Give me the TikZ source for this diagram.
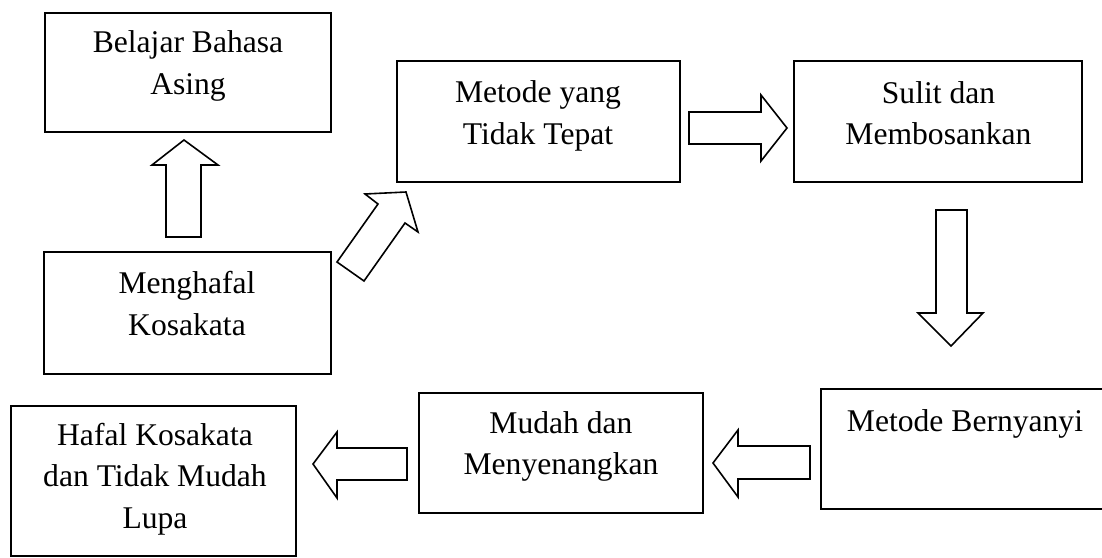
\documentclass[tikz,border=0pt]{standalone}
\usepackage{fontspec}
\setmainfont{Liberation Serif}
\begin{document}
\begin{tikzpicture}[x=0.5pt,y=-0.5pt,
  box/.style 2 args={draw, rectangle, line width=1pt, inner sep=0pt, outer sep=0pt,
     minimum width=#1*0.5pt, minimum height=#2*0.5pt},
  txt/.style={align=center, inner sep=0pt, font=\fontsize{15.8}{20.8}\selectfont},
  barr/.style={draw, line width=0.8pt, line join=miter, fill=white}]
\useasboundingbox (0,0) rectangle (1102,557);
% boxes
\node[box={286}{119}] (A) at (188,72.5) {};
\node[box={287}{122}] (B) at (187.5,313) {};
\node[box={283}{121}] (C) at (538.5,121.5) {};
\node[box={288}{121}] (D) at (938,121.5) {};
\node[box={285}{120}] (E) at (963.5,449) {};
\node[box={284}{120}] (F) at (561,453) {};
\node[box={285}{150}] (G) at (153.5,481) {};
% texts
\node[txt] (At) at (188,66) {Belajar Bahasa\\Asing};
\node[txt] (Bt) at (187,303.5) {Menghafal\\Kosakata};
\node[txt] (Ct) at (538,115.7) {Metode yang\\Tidak Tepat};
\node[txt] (Dt) at (938.5,113) {Sulit dan\\Membosankan};
\node[txt] (Et) at (965,424) {Metode Bernyanyi};
\node[txt] (Ft) at (561,446.5) {Mudah dan\\Menyenangkan};
\node[txt] (Gt) at (155,479) {Hafal Kosakata\\dan Tidak Mudah\\Lupa};
% block arrows
\draw[barr] (166,237) -- (201,237) -- (201,165) -- (218,165) -- (184,140) -- (152,165) -- (166,165) -- cycle;
\draw[barr] (337,262) -- (378,204) -- (365,194) -- (406,192) -- (418,232) -- (405,223) -- (364,281) -- cycle;
\draw[barr] (689,112) -- (761,112) -- (761,95) -- (787,128) -- (761,161) -- (761,144) -- (689,144) -- cycle;
\draw[barr] (936,210) -- (967,210) -- (967,313) -- (983,313) -- (951,346) -- (918,313) -- (936,313) -- cycle;
\draw[barr] (810,446) -- (738,446) -- (738,430) -- (713,463) -- (738,497) -- (738,479) -- (810,479) -- cycle;
\draw[barr] (407,448) -- (337,448) -- (337,432) -- (313,464) -- (337,498) -- (337,480) -- (407,480) -- cycle;
\end{tikzpicture}
\end{document}
